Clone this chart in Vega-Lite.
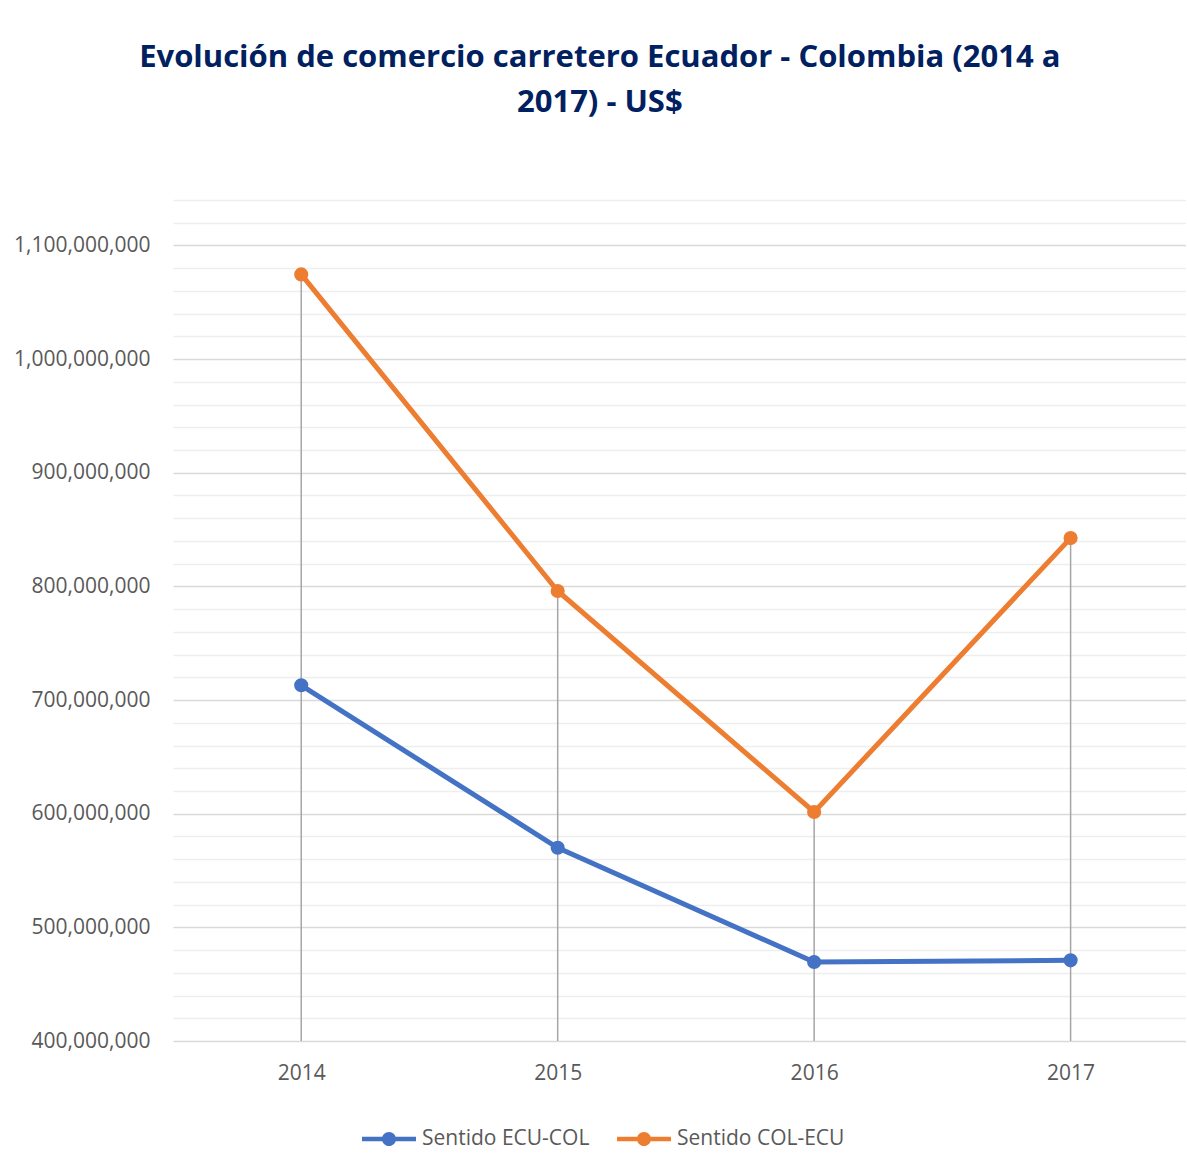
{
  "$schema": "https://vega.github.io/schema/vega-lite/v6.json",
  "width": 1013,
  "height": 841,
  "padding": {"left": 13, "top": 42, "right": 0, "bottom": 0},
  "autosize": {"type": "pad"},
  "background": "white",
  "title": {
    "text": ["Evolución de comercio carretero Ecuador - Colombia (2014 a", "2017) - US$"],
    "font": "Open Sans",
    "fontSize": 31,
    "fontWeight": "bold",
    "color": "#002060",
    "lineHeight": 45,
    "anchor": "middle",
    "frame": "bounds",
    "offset": 81
  },
  "config": {"view": {"stroke": null}, "font": "Open Sans"},
  "data": {
    "values": [
      {"year": 2014, "series": "Sentido ECU-COL", "value": 713000000},
      {"year": 2015, "series": "Sentido ECU-COL", "value": 570000000},
      {"year": 2016, "series": "Sentido ECU-COL", "value": 469500000},
      {"year": 2017, "series": "Sentido ECU-COL", "value": 471000000},
      {"year": 2014, "series": "Sentido COL-ECU", "value": 1074500000},
      {"year": 2015, "series": "Sentido COL-ECU", "value": 796000000},
      {"year": 2016, "series": "Sentido COL-ECU", "value": 601500000},
      {"year": 2017, "series": "Sentido COL-ECU", "value": 842500000}
    ]
  },
  "encoding": {
    "x": {
      "field": "year",
      "type": "quantitative",
      "scale": {"domain": [2013.5, 2017.45], "nice": false, "zero": false},
      "axis": {
        "title": null,
        "values": [2014, 2015, 2016, 2017],
        "format": "d",
        "grid": false,
        "domain": false,
        "ticks": false,
        "labelFontSize": 21,
        "labelColor": "#595959",
        "labelPadding": 21,
        "labelFont": "Open Sans"
      }
    }
  },
  "layer": [
    {
      "transform": [{"filter": "datum.series === 'Sentido COL-ECU'"}],
      "mark": {"type": "rule", "color": "#A6A6A6", "strokeWidth": 1.5},
      "encoding": {
        "y": {
          "field": "value",
          "type": "quantitative",
          "scale": {"domain": [400000000, 1140000000], "nice": false, "zero": false},
          "axis": {
            "orient": "right",
            "title": null,
            "labels": false,
            "ticks": false,
            "domain": false,
            "grid": true,
            "gridColor": "#EEEEEE",
            "gridWidth": 1.5,
            "values": [420000000, 440000000, 460000000, 480000000, 520000000, 540000000, 560000000, 580000000, 620000000, 640000000, 660000000, 680000000, 720000000, 740000000, 760000000, 780000000, 820000000, 840000000, 860000000, 880000000, 920000000, 940000000, 960000000, 980000000, 1020000000, 1040000000, 1060000000, 1080000000, 1120000000, 1140000000]
          }
        },
        "y2": {"datum": 400000000}
      }
    },
    {
      "mark": {"type": "line", "strokeWidth": 5},
      "encoding": {
        "y": {
          "field": "value",
          "type": "quantitative",
          "scale": {"domain": [400000000, 1140000000], "nice": false, "zero": false},
          "axis": {
            "title": null,
            "values": [400000000, 500000000, 600000000, 700000000, 800000000, 900000000, 1000000000, 1100000000],
            "format": ",d",
            "grid": true,
            "gridColor": "#D9D9D9",
            "gridWidth": 1.5,
            "domain": false,
            "ticks": false,
            "labelFontSize": 21,
            "labelColor": "#595959",
            "labelPadding": 23,
            "labelFont": "Open Sans"
          }
        },
        "color": {
          "field": "series",
          "type": "nominal",
          "scale": {"domain": ["Sentido ECU-COL", "Sentido COL-ECU"], "range": ["#4472C4", "#ED7D31"]},
          "legend": {
            "orient": "none",
            "legendX": 189,
            "legendY": 912,
            "direction": "horizontal",
            "title": null,
            "symbolType": "M-1,-0.08L1,-0.08L1,0.08L-1,0.08Z M0.26,0A0.26,0.26,0,1,1,-0.26,0A0.26,0.26,0,1,1,0.26,0Z",
            "symbolSize": 2916,
            "symbolStrokeWidth": 0,
            "labelFontSize": 21,
            "labelColor": "#595959",
            "labelFont": "Open Sans",
            "labelOffset": 6,
            "labelLimit": 300,
            "columnPadding": 27,
            "encode": {
              "symbols": {
                "update": {
                  "fill": {"scale": "color", "field": "value"},
                  "stroke": {"value": "transparent"},
                  "opacity": {"value": 1}
                }
              }
            }
          }
        }
      }
    },
    {
      "mark": {"type": "point", "filled": true, "size": 200, "opacity": 1},
      "encoding": {
        "y": {
          "field": "value",
          "type": "quantitative",
          "scale": {"domain": [400000000, 1140000000], "nice": false, "zero": false},
          "axis": null
        },
        "color": {
          "field": "series",
          "type": "nominal",
          "scale": {"domain": ["Sentido ECU-COL", "Sentido COL-ECU"], "range": ["#4472C4", "#ED7D31"]},
          "legend": null
        }
      }
    }
  ],
  "resolve": {"axis": {"y": "independent"}}
}
